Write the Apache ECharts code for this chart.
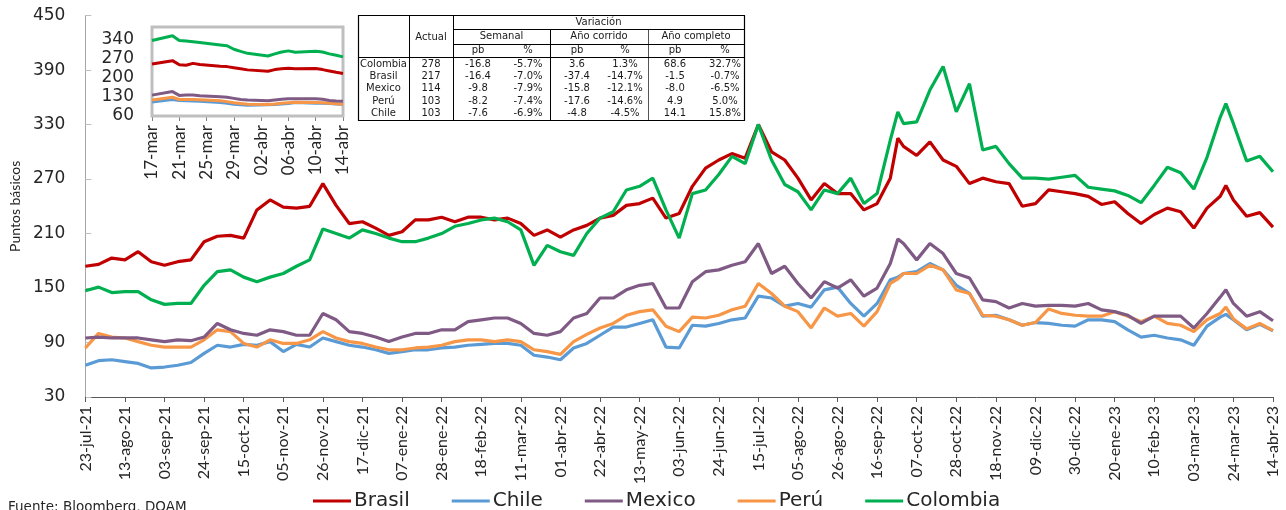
<!DOCTYPE html>
<html>
<head>
<meta charset="utf-8">
<script src="https://cdn.jsdelivr.net/npm/echarts@6/dist/echarts.min.js"></script>
<style>
  html, body { margin: 0; padding: 0; background: #fff; }
  #chart { width: 1286px; height: 510px; }
</style>
</head>
<body>
<div id="chart"></div>
<script>
// ---- Data -------------------------------------------------------------
// CDS 5 años, puntos básicos. Valores semanales (viernes) desde 23-jul-21,
// más dos lecturas intermedias en días de picos.
const startDate = [2021, 6, 23];           // 23-jul-21
const totalDays = 630;                     // hasta 14-abr-23
const weeklyCount = 91;
const midweekDays = [431, 605];            // días extra (desde el inicio)

const brasil = [174,176,183,181,190,179,175,179,181,201, 207,208,205,236,247,239,238,240,265,241,
  221,223,216,208,212,225,225,228,223,228, 228,225,227,221,208,214,206,214,219,227,
  230,241,243,249,227,232,262,282,291,298, 293,330,300,291,271,247,265,254,254,236,
  243,271,315,306,296,311,291,284,265,271, 267,265,240,243,258,256,254,251,242,245,
  232,221,231,238,234,216,238,251,263,247, 229,233,217];
const colombia = [147,151,145,146,146,137,132,133,133,153, 168,170,162,157,162,166,174,181,215,210,
  205,214,210,205,201,201,205,210,218,221, 225,227,223,214,175,197,190,186,210,227,
  234,258,262,271,236,205,254,258,275,295, 287,330,291,264,256,236,258,254,271,243,
  254,313,344,331,333,368,394,344,375,302, 306,287,271,271,270,272,274,261,259,257,
  252,244,263,283,277,259,294,338,353,331, 290,295,278];
const mexico = [95,96,95,95,95,93,91,93,92,96, 111,104,100,98,104,102,98,98,122,115,
  102,100,96,91,96,100,100,104,104,113, 115,117,117,111,100,98,102,117,122,139,
  139,148,153,155,128,128,157,168,170,175, 179,199,166,174,155,139,157,150,159,141,
  150,177,204,199,181,199,188,166,161,137, 135,128,133,130,131,131,130,133,126,124,
  120,111,119,119,119,106,122,140,148,133, 119,124,114];
const peru = [84,100,96,95,91,87,85,85,85,93, 104,102,89,85,93,89,89,93,102,95,
  91,89,85,82,82,84,85,87,91,93, 93,91,93,91,82,80,77,91,99,106,
  111,120,124,126,108,102,118,117,120,126, 130,155,144,130,124,106,128,119,122,108,
  124,155,160,166,166,175,170,148,144,120, 119,115,109,112,127,122,120,119,119,124,
  119,113,119,111,109,102,115,122,129,116, 105,111,103];
const chile = [65,70,71,69,67,62,63,65,68,78, 87,85,88,87,91,80,88,85,95,91,
  87,85,82,78,80,82,82,84,85,87, 88,89,89,87,76,74,71,84,89,98,
  107,107,111,115,85,84,109,108,111,115, 117,141,139,130,133,129,148,151,133,119,
  133,159,162,166,168,177,170,153,144,119, 120,115,109,112,111,109,108,115,115,113,
  104,96,98,95,93,87,108,118,121,115, 104,110,103];

// Detalle de las últimas semanas (días hábiles desde 17-mar)
const insetStart = [2023, 2, 17];
const insetSpan = 28;
const insetDays = [0,3,4,5,6,7,10,11,12,13,14,17,18,19,20,21,24,25,26,27,28];
const insetColombia = [338,356,338,336,334,331,322,319,306,298,291,281,289,296,300,295,299,296,289,284,278];
const insetBrasil   = [252,264,249,247,254,250,243,242,238,234,230,225,231,234,236,234,235,231,226,221,217];
const insetMexico   = [137,150,136,137,137,135,131,129,125,121,119,116,119,122,124,124,124,122,117,115,114];
const insetPeru     = [119,129,121,121,121,120,116,113,109,106,103,102,104,107,109,111,110,109,107,105,103];
const insetChile    = [112,121,117,116,115,114,110,107,103,101,100,101,102,104,106,110,107,107,106,104,103];

// Tabla de variaciones
const tableCountries = ['Colombia','Brasil','Mexico','Perú','Chile'];
const tableActual = ['278','217','114','103','103'];
const semPb   = ['-16.8','-16.4','-9.8','-8.2','-7.6'];
const semPct  = ['-5.7%','-7.0%','-7.9%','-7.4%','-6.9%'];
const ytdPb   = ['3.6','-37.4','-15.8','-17.6','-4.8'];
const ytdPct  = ['1.3%','-14.7%','-12.1%','-14.6%','-4.5%'];
const yearPb  = ['68.6','-1.5','-8.0','4.9','14.1'];
const yearPct = ['32.7%','-0.7%','-6.5%','5.0%','15.8%'];

const sourceText = 'Fuente: Bloomberg, DOAM';

// ---- Helpers -------------------------------------------------------------
const MESES = ['ene','feb','mar','abr','may','jun','jul','ago','sep','oct','nov','dic'];
function dayLabel(y, m, d, offset, withYear) {
  const dt = new Date(Date.UTC(y, m, d + offset));
  const dd = String(dt.getUTCDate()).padStart(2, '0');
  let s = dd + '-' + MESES[dt.getUTCMonth()];
  if (withYear) s += '-' + String(dt.getUTCFullYear()).slice(2);
  return s;
}
const mainCategories = [];
for (let i = 0; i <= totalDays; i++) mainCategories.push(dayLabel(startDate[0], startDate[1], startDate[2], i, true));
const insetCategories = [];
for (let i = 0; i <= insetSpan; i++) insetCategories.push(dayLabel(insetStart[0], insetStart[1], insetStart[2], i, false));

const sampleDays = [];
for (let w = 0; w < weeklyCount; w++) sampleDays.push(w * 7);
midweekDays.forEach(d => sampleDays.push(d));
sampleDays.sort((a, b) => a - b);

const FONT_V = 'Lato, "Open Sans", sans-serif';        // rotated labels
const FONT_H = '"DejaVu Sans", Verdana, sans-serif';   // horizontal text
const TXT = '#262626';
const COLORS = { Brasil: '#C00000', Chile: '#5B9BD5', Mexico: '#7F5A84', 'Perú': '#F79646', Colombia: '#00B050' };

const mainData = { Brasil: brasil, Chile: chile, Mexico: mexico, 'Perú': peru, Colombia: colombia };
const insetData = { Brasil: insetBrasil, Chile: insetChile, Mexico: insetMexico, 'Perú': insetPeru, Colombia: insetColombia };
const drawOrder = ['Chile', 'Perú', 'Mexico', 'Brasil', 'Colombia'];

const series = [];
drawOrder.forEach(name => {
  series.push({
    name, type: 'line', xAxisIndex: 0, yAxisIndex: 0, symbol: 'none',
    data: sampleDays.map((d, k) => [d, mainData[name][k]]),
    lineStyle: { width: 3.2, color: COLORS[name] }, itemStyle: { color: COLORS[name] },
    z: 2
  });
  series.push({
    name, type: 'line', xAxisIndex: 1, yAxisIndex: 1, symbol: 'none',
    data: insetDays.map((d, k) => [d, insetData[name][k]]),
    lineStyle: { width: 3, color: COLORS[name] }, itemStyle: { color: COLORS[name] },
    z: 5
  });
});

// ---- Table graphics ------------------------------------------------------
const T = { left: 358, right: 744, top: 15, bottom: 120, c1: 409, c2: 453, c3: 550, c4: 648, h1: 29, h2: 44, h3: 57 };
const tableEls = [];
function hline(x1, x2, y) { tableEls.push({ type: 'line', shape: { x1, y1: y + 0.5, x2, y2: y + 0.5 }, style: { stroke: '#000', lineWidth: 1 }, z: 20 }); }
function vline(x, y1, y2, col) { tableEls.push({ type: 'line', shape: { x1: x + 0.5, y1, x2: x + 0.5, y2 }, style: { stroke: col || '#000', lineWidth: 1 }, z: 20 }); }
function cell(text, x, y) {
  tableEls.push({ type: 'text', x, y, z: 21,
    style: { text, align: 'center', verticalAlign: 'middle', fontSize: 10, fontFamily: FONT_H, fill: '#1a1a1a' } });
}
tableEls.push({ type: 'rect', shape: { x: T.left + 0.5, y: T.top + 0.5, width: T.right - T.left, height: T.bottom - T.top },
  style: { fill: '#fff', stroke: '#000', lineWidth: 1.2 }, z: 19 });
vline(T.c1, T.top, T.bottom);
vline(T.c2, T.top, T.bottom);
vline(T.c3, T.h1, T.bottom);
vline(T.c4, T.h1, T.bottom, '#555');
hline(T.c2, T.right, T.h1);
hline(T.c2, T.right, T.h2);
hline(T.left, T.right, T.h3);
cell('Variación', (T.c2 + T.right) / 2, 22);
cell('Actual', (T.c1 + T.c2) / 2, 37);
cell('Semanal', (T.c2 + T.c3) / 2, 36.5);
cell('Año corrido', (T.c3 + T.c4) / 2, 36.5);
cell('Año completo', (T.c4 + T.right) / 2, 36.5);
const subCols = [478, 528, 577, 625, 675, 725];
subCols.forEach((x, k) => cell(k % 2 === 0 ? 'pb' : '%', x, 50.5));
const rowY0 = 64.5, rowStep = 12.2;
tableCountries.forEach((c, r) => {
  const y = rowY0 + r * rowStep;
  cell(c, (T.left + T.c1) / 2, y);
  cell(tableActual[r], (T.c1 + T.c2) / 2, y);
  [semPb, semPct, ytdPb, ytdPct, yearPb, yearPct].forEach((col, k) => cell(col[r], subCols[k], y));
});

// ---- Chart ---------------------------------------------------------------
const chart = echarts.init(document.getElementById('chart'), null, { renderer: 'canvas' });
chart.setOption({
  animation: false,
  backgroundColor: '#fff',
  textStyle: { fontFamily: FONT_H },
  grid: [
    { left: 82, right: 13, top: 15.6, bottom: 113 },
    { left: 152, top: 27, width: 191, height: 89, show: true, backgroundColor: '#fff',
      borderColor: '#BFBFBF', borderWidth: 3, z: 4 }
  ],
  legend: {
    data: ['Brasil', 'Chile', 'Mexico', 'Perú', 'Colombia'],
    left: 308, top: 486, itemGap: 42, itemWidth: 38, itemHeight: 3, icon: 'rect',
    textStyle: { fontSize: 20, color: TXT, fontFamily: FONT_H, padding: [0, 0, 0, -2] }
  },
  xAxis: [
    {
      type: 'category', gridIndex: 0, data: mainCategories, boundaryGap: false,
      axisLine: { lineStyle: { color: '#595959', width: 1 } },
      axisTick: { show: true, interval: 20, length: 5, lineStyle: { color: '#595959' } },
      axisLabel: { interval: 20, rotate: 90, fontSize: 16, color: TXT, margin: 9, fontFamily: FONT_V },
      splitLine: { show: false }
    },
    {
      type: 'category', gridIndex: 1, data: insetCategories, boundaryGap: false,
      axisLine: { lineStyle: { color: '#7F7F7F', width: 1 } },
      axisTick: { show: true, interval: 3, length: 5, lineStyle: { color: '#7F7F7F' } },
      axisLabel: { interval: 3, rotate: 90, fontSize: 17, color: TXT, margin: 9, fontFamily: FONT_V },
      splitLine: { show: false }
    }
  ],
  yAxis: [
    {
      type: 'value', gridIndex: 0, min: 30, max: 450, interval: 60,
      name: 'Puntos básicos', nameLocation: 'middle', nameGap: 58,
      nameTextStyle: { fontSize: 14, color: TXT, fontFamily: FONT_V },
      axisLine: { show: true, lineStyle: { color: '#A6A6A6' } },
      axisTick: { show: true, inside: true, length: 6, lineStyle: { color: '#BFBFBF' } },
      axisLabel: { fontSize: 17, color: TXT, margin: 20, fontFamily: FONT_H },
      splitLine: { show: false }
    },
    {
      type: 'value', gridIndex: 1, min: 60, max: 388, interval: 70,
      axisLine: { show: false },
      axisTick: { show: true, inside: true, length: 5, lineStyle: { color: '#A6A6A6' } },
      axisLabel: { fontSize: 17, color: TXT, margin: 18, showMaxLabel: false, fontFamily: FONT_H },
      splitLine: { show: false }
    }
  ],
  series,
  graphic: [
    ...tableEls,
    { type: 'text', left: 8, top: 500, z: 20,
      style: { text: sourceText, fontSize: 13.5, fill: TXT, fontFamily: FONT_H } }
  ]
});
</script>
</body>
</html>
